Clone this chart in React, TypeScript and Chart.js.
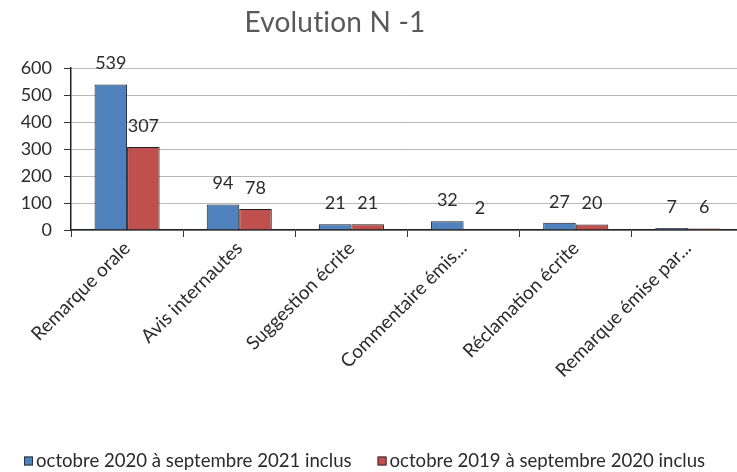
import { useEffect, useRef } from "react";
import { Chart, registerables } from "chart.js";

Chart.register(...registerables);

// Categories and counts per period
const categories = [
  "Remarque orale",
  "Avis internautes",
  "Suggestion écrite",
  "Commentaire émis...",
  "Réclamation écrite",
  "Remarque émise par...",
];
const currentPeriod = [539, 94, 21, 32, 27, 7];
const previousPeriod = [307, 78, 21, 2, 20, 6];
const seriesNames = [
  "octobre 2020 à septembre 2021 inclus",
  "octobre 2019 à septembre 2020 inclus",
];
const yMin = 0;
const yMax = 600;
const yStep = 100;
const chartTitle = "Evolution N -1";

const FONT = "Lato, 'Open Sans', sans-serif";
const TEXT = "#2b2b2b";

// Value printed above each bar
const valueLabels = {
  id: "valueLabels",
  afterDatasetsDraw(chart: any) {
    const ctx = chart.ctx;
    ctx.save();
    ctx.font = `18px ${FONT}`;
    ctx.fillStyle = TEXT;
    ctx.textAlign = "center";
    ctx.textBaseline = "middle";
    chart.data.datasets.forEach((ds: any, i: number) => {
      const meta = chart.getDatasetMeta(i);
      meta.data.forEach((bar: any, j: number) => {
        ctx.fillText(String(ds.data[j]), bar.x, bar.y - 21);
      });
    });
    ctx.restore();
  },
};

// Title and bottom legend
const titleAndLegend = {
  id: "titleAndLegend",
  afterDraw(chart: any) {
    const ctx = chart.ctx;
    ctx.save();
    ctx.font = `28px ${FONT}`;
    ctx.letterSpacing = "0.2px";
    ctx.fillStyle = "#595959";
    ctx.textAlign = "center";
    ctx.textBaseline = "middle";
    ctx.fillText(chartTitle, 335, 23);
    ctx.letterSpacing = "0px";

    ctx.font = `18.6px ${FONT}`;
    ctx.textAlign = "left";
    const box = 9;
    const gap = 3;
    const spacing = 26;
    const widths = chart.data.datasets.map((ds: any) => ctx.measureText(ds.label).width);
    let x = 24;
    const y = 461;
    chart.data.datasets.forEach((ds: any, i: number) => {
      ctx.fillStyle = ds.backgroundColor;
      ctx.fillRect(x, y - box / 2, box, box);
      ctx.strokeStyle = "#333";
      ctx.lineWidth = 1;
      ctx.strokeRect(x + 0.5, y - box / 2 + 0.5, box - 1, box - 1);
      ctx.fillStyle = TEXT;
      ctx.fillText(ds.label, x + box + gap, y);
      x += box + gap + widths[i] + spacing;
    });
    ctx.restore();
  },
};

export default function App() {
  const canvasRef = useRef<HTMLCanvasElement | null>(null);

  useEffect(() => {
    if (!canvasRef.current) return;
    const chart = new Chart(canvasRef.current, {
      type: "bar",
      data: {
        labels: categories,
        datasets: [
          {
            label: seriesNames[0],
            data: currentPeriod,
            backgroundColor: "#4F81BD",
            borderColor: "#1e1e1e",
            borderWidth: 1,
          },
          {
            label: seriesNames[1],
            data: previousPeriod,
            backgroundColor: "#C0504D",
            borderColor: "#1e1e1e",
            borderWidth: 1,
          },
        ],
      },
      options: {
        animation: false,
        responsive: false,
        maintainAspectRatio: false,
        layout: { padding: { left: 0, top: 68, right: 16, bottom: 0 } },
        datasets: { bar: { categoryPercentage: 0.58, barPercentage: 1 } },
        plugins: {
          legend: { display: false },
          title: { display: false },
          tooltip: { enabled: false },
        },
        scales: {
          x: {
            offset: true,
            grid: {
              display: true,
              offset: true,
              drawOnChartArea: false,
              tickLength: 7,
              tickColor: "#333",
            },
            border: { color: "#222", width: 1.5 },
            ticks: {
              autoSkip: false,
              maxRotation: 45,
              minRotation: 45,
              color: TEXT,
              font: { family: FONT, size: 19 },
              padding: 0,
            },
            afterFit(scale: any) {
              scale.height = 242;
            },
          },
          y: {
            min: yMin,
            max: yMax,
            ticks: {
              stepSize: yStep,
              color: TEXT,
              font: { family: FONT, size: 18 },
              padding: 12,
            },
            grid: { color: "#b8b8b8", tickLength: 7, tickColor: "#333" },
            border: { color: "#222", width: 1.5 },
            afterFit(scale: any) {
              scale.width = 71;
            },
          },
        },
      },
      plugins: [valueLabels, titleAndLegend],
    });
    return () => chart.destroy();
  }, []);

  return (
    <div
      style={{
        position: "fixed",
        left: 0,
        top: 0,
        width: 737,
        height: 472,
        overflow: "hidden",
        background: "#fff",
      }}
    >
      <canvas ref={canvasRef} width={760} height={472} style={{ width: 760, height: 472 }} />
    </div>
  );
}
